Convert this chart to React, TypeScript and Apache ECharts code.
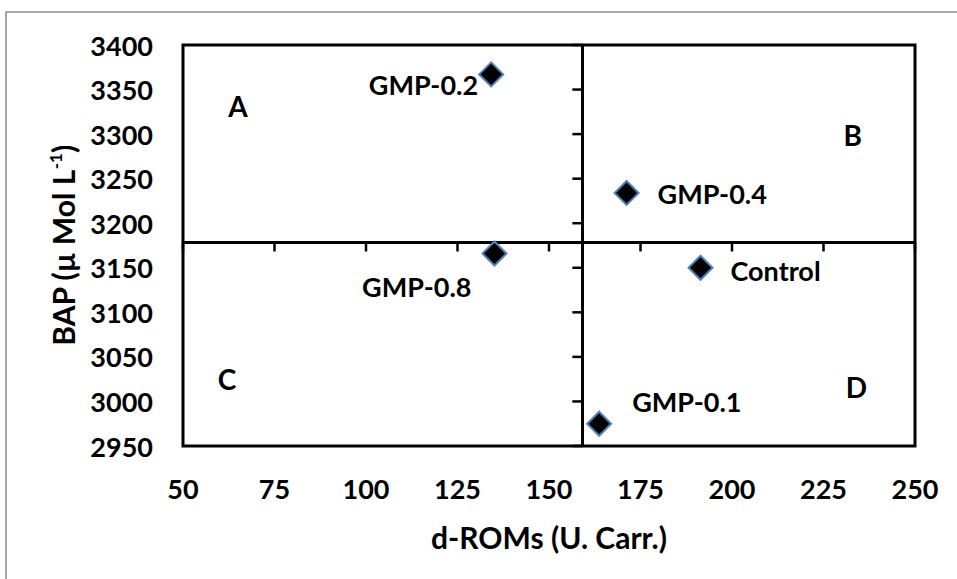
import React, { useEffect, useRef } from 'react';
import * as echarts from 'echarts';

const sampleNames = ['Control', 'GMP-0.1', 'GMP-0.2', 'GMP-0.4', 'GMP-0.8'];
const dRoms = [191.4, 163.7, 134.2, 171.2, 135.1];
const bap = [3150, 2975, 3367, 3234, 3166];

const quadrantLetters = ['A', 'B', 'C', 'D'];
const quadrantX = [65, 233, 62, 234];
const quadrantY = [3332, 3299, 3025, 3016];

const xTicks = [50, 75, 100, 125, 150, 175, 200, 225, 250];
const yTicks = [2950, 3000, 3050, 3100, 3150, 3200, 3250, 3300, 3350, 3400];
const xTitle = 'd-ROMs (U. Carr.)';
const yTitle = 'BAP (µ Mol L{sup|-1})';

const FONT = 'Lato';
const labelStyle: Record<string, any> = {
  'Control': { position: 'right', distance: 17, offset: [0, 3] },
  'GMP-0.1': { position: 'right', distance: 20, offset: [0, -22] },
  'GMP-0.2': { position: 'left', distance: 0, offset: [0, 10] },
  'GMP-0.4': { position: 'right', distance: 18, offset: [0, 1] },
  'GMP-0.8': { position: 'left', distance: 10, offset: [0, 33] },
};

const mean = (a: number[]) => a.reduce((s, v) => s + v, 0) / a.length;

export default function App() {
  const ref = useRef<HTMLDivElement>(null);
  useEffect(() => {
    if (!ref.current) return;
    const chart = echarts.init(ref.current, null, { renderer: 'svg' });
    const meanX = mean(dRoms);
    const meanY = mean(bap);
    const xMin = xTicks[0], xMax = xTicks[xTicks.length - 1];
    const yMin = yTicks[0], yMax = yTicks[yTicks.length - 1];
    const xStep = xTicks[1] - xTicks[0], yStep = yTicks[1] - yTicks[0];
    const tickFont = { fontFamily: FONT, fontWeight: 'bold' as const, fontSize: 27, color: '#000' };
    const tickLine = { stroke: '#000', lineWidth: 2.5 };
    chart.setOption({
      animation: false,
      backgroundColor: '#fff',
      graphic: [
        {
          type: 'rect',
          shape: { x: 6, y: 12, width: 1000, height: 600 },
          style: { fill: 'none', stroke: '#8c8c8c', lineWidth: 1.5 },
          silent: true,
        },
      ],
      grid: {
        left: 183, right: 42, top: 45, bottom: 133,
        show: true, borderColor: '#000', borderWidth: 3, backgroundColor: 'transparent',
      },
      xAxis: {
        type: 'value', position: 'bottom', min: xMin, max: xMax, interval: xStep,
        axisLine: { show: false }, axisTick: { show: false }, splitLine: { show: false },
        axisLabel: { ...tickFont, margin: 29 },
        name: xTitle, nameLocation: 'middle', nameGap: 76,
        nameTextStyle: { fontFamily: FONT, fontWeight: 'bold', fontSize: 30, color: '#000' },
      },
      yAxis: {
        type: 'value', position: 'left', min: yMin, max: yMax, interval: yStep,
        axisLine: { show: false }, axisTick: { show: false }, splitLine: { show: false },
        axisLabel: { ...tickFont, margin: 30, formatter: (v: number) => String(v) },
        name: yTitle, nameLocation: 'middle', nameGap: 103,
        nameTextStyle: {
          fontFamily: FONT, fontWeight: 'bold', fontSize: 30, color: '#000', lineHeight: 32,
          rich: {
            sup: { fontFamily: FONT, fontWeight: 'bold', fontSize: 17, color: '#000', verticalAlign: 'top', lineHeight: 18 },
          },
        },
      },
      series: [
        {
          type: 'custom', silent: true, z: 4,
          data: xTicks.map((v) => [v, meanY]),
          renderItem: (params: any, api: any) => {
            const p = api.coord([api.value(0), api.value(1)]);
            return { type: 'line', shape: { x1: p[0], y1: p[1], x2: p[0], y2: p[1] + 9 }, style: tickLine };
          },
        },
        {
          type: 'custom', silent: true, z: 4,
          data: yTicks.map((v) => [meanX, v]),
          renderItem: (params: any, api: any) => {
            const p = api.coord([api.value(0), api.value(1)]);
            return { type: 'line', shape: { x1: p[0] - 10, y1: p[1], x2: p[0], y2: p[1] }, style: tickLine };
          },
        },
        {
          type: 'scatter',
          symbol: 'diamond', symbolSize: 24,
          itemStyle: { color: '#000', borderColor: '#4f81bd', borderWidth: 2, opacity: 1 },
          data: sampleNames.map((n, i) => ({
            name: n, value: [dRoms[i], bap[i]],
            label: {
              show: true, formatter: n, ...labelStyle[n],
              fontFamily: FONT, fontWeight: 'bold', fontSize: 27, color: '#000',
            },
          })),
          markLine: {
            silent: true, symbol: ['none', 'none'], label: { show: false },
            lineStyle: { color: '#000', width: 3, type: 'solid' },
            data: [{ xAxis: meanX }, { yAxis: meanY }],
          },
          z: 5,
        },
        {
          type: 'scatter', silent: true,
          symbol: 'circle', symbolSize: 1,
          itemStyle: { color: '#fff', opacity: 1 },
          data: quadrantLetters.map((l, i) => ({ name: l, value: [quadrantX[i], quadrantY[i]] })),
          label: {
            show: true, position: 'inside', formatter: (p: any) => p.name,
            fontFamily: FONT, fontWeight: 'bold', fontSize: 28, color: '#000', opacity: 1,
          },
        },
      ],
    });
    return () => chart.dispose();
  }, []);
  return <div ref={ref} style={{ position: 'fixed', left: 0, top: 0, width: 957, height: 579 }} />;
}
